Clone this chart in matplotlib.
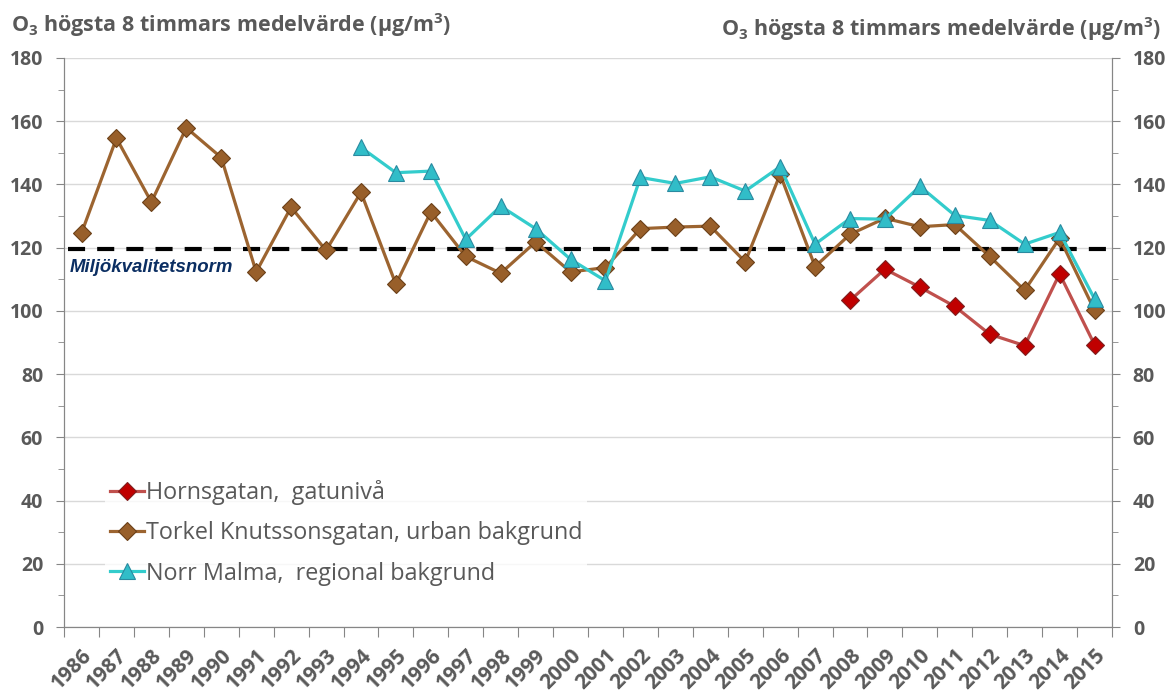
import numpy as np
import matplotlib.pyplot as plt
from matplotlib.ticker import MultipleLocator

years = list(range(1986, 2016))

# Torkel Knutssonsgatan, urban bakgrund (1986-2015)
torkel = [124.6, 154.6, 134.4, 157.9, 148.5, 112.3, 132.8, 119.1, 137.5, 108.4,
          131.3, 117.2, 111.9, 121.8, 112.3, 113.7, 126.0, 126.5, 126.8, 115.5,
          143.2, 114.0, 124.2, 129.3, 126.6, 127.3, 117.2, 106.5, 123.0, 100.2]

# Norr Malma, regional bakgrund (1994-2015)
malma_years = list(range(1994, 2016))
malma = [151.7, 143.7, 144.2, 122.6, 133.1, 126.0, 116.3, 109.5, 142.2, 140.3,
         142.4, 137.9, 145.6, 121.1, 129.2, 129.0, 139.4, 130.2, 128.6, 121.1,
         124.8, 103.8]

# Hornsgatan, gatunivå (2008-2015)
horns_years = list(range(2008, 2016))
horns = [103.3, 113.2, 107.5, 101.4, 92.6, 89.0, 111.7, 89.3]

norm = 119.5
ylabel_text = 'O$_3$ högsta 8 timmars medelvärde (µg/m$^3$)'

gray = '#595959'
plt.rcParams['font.family'] = ['Open Sans', 'DejaVu Sans']
plt.rcParams['mathtext.fontset'] = 'custom'
plt.rcParams['mathtext.rm'] = 'Open Sans:bold'
plt.rcParams['mathtext.it'] = 'Open Sans:bold'

fig = plt.figure(figsize=(11.73, 6.98), dpi=100)
ax = fig.add_axes([0.0546, 0.1017, 0.8934, 0.8153])

idx = {y: i for i, y in enumerate(years)}
x_t = [idx[y] for y in years]
x_m = [idx[y] for y in malma_years]
x_h = [idx[y] for y in horns_years]

ax.plot(x_h, horns, color='#C0504D', lw=2.3, marker='D', ms=9,
        mfc='#C00000', mec='#7F1F1F', mew=0.8, label='Hornsgatan,  gatunivå', zorder=4)
ax.plot(x_t, torkel, color='#9C6430', lw=2.3, marker='D', ms=9,
        mfc='#985F2A', mec='#6B4018', mew=0.8,
        label='Torkel Knutssonsgatan, urban bakgrund', zorder=3)
ax.plot(x_m, malma, color='#33CCCC', lw=2.3, marker='^', ms=11,
        mfc='#31BDC8', mec='#2A8AA0', mew=0.8,
        label='Norr Malma,  regional bakgrund', zorder=3)

ax.axhline(norm, xmin=0.004, xmax=1, color='black', lw=3, dashes=(4.1, 2.9), zorder=2)
ax.text(-0.33, 113.6, 'Miljökvalitetsnorm', color='#0B2E62', fontsize=13.4,
        fontweight='bold', fontstyle='italic', family='Liberation Sans',
        ha='left', va='center')

ax.set_xlim(-0.5, len(years) - 0.5)
ax.set_ylim(0, 180)
ax.yaxis.set_major_locator(MultipleLocator(20))
ax.yaxis.set_minor_locator(MultipleLocator(10))
ax.grid(axis='y', color='#D9D9D9', lw=1, zorder=0)
ax.set_axisbelow(True)

ax.set_xticks(np.arange(len(years) + 1) - 0.5)
ax.set_xticklabels([])
ax.set_xticks(x_t, minor=True)
ax.set_xticklabels([str(y) for y in years], minor=True, rotation=45,
                   ha='right', va='top', rotation_mode='anchor',
                   fontsize=15, fontweight='bold', color=gray)
ax.tick_params(axis='x', which='major', length=7, color='#868686')
ax.tick_params(axis='x', which='minor', length=0, pad=13)
ax.tick_params(axis='y', which='both', direction='out', color='#868686',
               labelsize=14, labelcolor=gray, pad=9)
ax.tick_params(axis='y', which='major', length=6)
ax.tick_params(axis='y', which='minor', length=4)
for lbl in ax.get_yticklabels():
    lbl.set_fontweight('bold')

ax2 = ax.twinx()
ax2.set_ylim(0, 180)
ax2.yaxis.set_major_locator(MultipleLocator(20))
ax2.yaxis.set_minor_locator(MultipleLocator(10))
ax2.tick_params(axis='y', which='both', direction='out', color='#868686',
                labelsize=14, labelcolor=gray, pad=9)
ax2.tick_params(axis='y', which='major', length=6)
ax2.tick_params(axis='y', which='minor', length=4)
for lbl in ax2.get_yticklabels():
    lbl.set_fontweight('bold')

for a in (ax, ax2):
    for s in a.spines.values():
        s.set_color('#868686')
    a.spines['top'].set_visible(False)

fig.text(0.009, 0.964, ylabel_text, fontsize=15.5, fontweight='bold', color=gray,
         ha='left', va='center')
fig.text(0.99, 0.959, ylabel_text, fontsize=15.5, fontweight='bold', color=gray,
         ha='right', va='center')

leg = ax.legend(loc='lower left', bbox_to_anchor=(0.0284, 0.044), frameon=True,
                fontsize=16.8, handlelength=1.45, handletextpad=0.1, labelspacing=0.7,
                borderpad=0.2)
leg.get_frame().set_facecolor('white')
leg.get_frame().set_edgecolor('none')
for t in leg.get_texts():
    t.set_color(gray)

fig.savefig('out.png', dpi=100)
